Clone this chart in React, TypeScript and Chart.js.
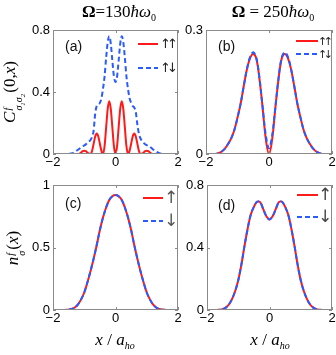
import React, { useEffect, useRef } from 'react';
import { Chart, registerables } from 'chart.js';
Chart.register(...registerables);

// ---------- data ----------
const xA = [-2, -1.6, -1.5, -1.45, -1.4, -1.35, -1.3, -1.25, -1.2, -1.15, -1.1, -1.05, -1, -0.95, -0.9, -0.85, -0.8, -0.75, -0.7, -0.65, -0.6, -0.55, -0.5, -0.45, -0.4, -0.35, -0.3, -0.25, -0.2, -0.15, -0.1, -0.05, 0, 0.05, 0.1, 0.15, 0.2, 0.25, 0.3, 0.35, 0.4, 0.45, 0.5, 0.55, 0.6, 0.65, 0.7, 0.75, 0.8, 0.85, 0.9, 0.95, 1, 1.05, 1.1, 1.15, 1.2, 1.25, 1.3, 1.35, 1.4, 1.45, 1.5, 1.6, 2];
const corrUpUpA = [0, 0, 0, 0, 0, 0, 0, 0, 0, 0.003, 0.01, 0.018, 0.021, 0.018, 0.01, 0.003, 0, 0.02, 0.066, 0.113, 0.132, 0.113, 0.066, 0.02, 0, 0.05, 0.17, 0.29, 0.34, 0.29, 0.17, 0.05, 0, 0.05, 0.17, 0.29, 0.34, 0.29, 0.17, 0.05, 0, 0.02, 0.066, 0.113, 0.132, 0.113, 0.066, 0.02, 0, 0.003, 0.01, 0.018, 0.021, 0.018, 0.01, 0.003, 0, 0, 0, 0, 0, 0, 0, 0, 0];
const corrUpDownA = [0, 0, 0, 0.002, 0.004, 0.007, 0.013, 0.02, 0.027, 0.035, 0.043, 0.05, 0.055, 0.062, 0.07, 0.08, 0.09, 0.11, 0.15, 0.26, 0.31, 0.32, 0.33, 0.36, 0.42, 0.5, 0.62, 0.72, 0.76, 0.71, 0.6, 0.5, 0.465, 0.5, 0.6, 0.71, 0.76, 0.72, 0.62, 0.5, 0.42, 0.36, 0.33, 0.31, 0.3, 0.27, 0.19, 0.13, 0.1, 0.085, 0.072, 0.063, 0.057, 0.052, 0.047, 0.038, 0.03, 0.022, 0.016, 0.01, 0.006, 0.003, 0.001, 0, 0];

const xGrid = [-2, -1.9, -1.8, -1.7, -1.6, -1.5, -1.4, -1.3, -1.2, -1.1, -1, -0.9, -0.8, -0.7, -0.6, -0.5, -0.4, -0.3, -0.2, -0.1, 0, 0.1, 0.2, 0.3, 0.4, 0.5, 0.6, 0.7, 0.8, 0.9, 1, 1.1, 1.2, 1.3, 1.4, 1.5, 1.6, 1.7, 1.8, 1.9, 2];
const corrUpUpB = [0, 0, 0, 0, 0.002, 0.006, 0.013, 0.024, 0.038, 0.058, 0.088, 0.122, 0.165, 0.205, 0.232, 0.242, 0.23, 0.18, 0.11, 0.035, 0, 0.035, 0.11, 0.18, 0.23, 0.242, 0.232, 0.205, 0.165, 0.122, 0.088, 0.058, 0.038, 0.024, 0.013, 0.006, 0.002, 0, 0, 0, 0];
const corrUpDownB = [0, 0, 0, 0, 0.002, 0.006, 0.013, 0.024, 0.038, 0.058, 0.088, 0.122, 0.165, 0.206, 0.235, 0.246, 0.232, 0.182, 0.112, 0.045, 0.014, 0.045, 0.112, 0.182, 0.232, 0.246, 0.235, 0.206, 0.165, 0.122, 0.088, 0.058, 0.038, 0.024, 0.013, 0.006, 0.002, 0, 0, 0, 0];
const densUpC = [0, 0, 0, 0, 0.001, 0.003, 0.008, 0.02, 0.045, 0.085, 0.14, 0.22, 0.31, 0.41, 0.52, 0.64, 0.74, 0.82, 0.88, 0.91, 0.92, 0.91, 0.88, 0.82, 0.74, 0.64, 0.52, 0.41, 0.31, 0.22, 0.14, 0.085, 0.045, 0.02, 0.008, 0.003, 0.001, 0, 0, 0, 0];
const densDownC = [0, 0, 0, 0, 0.001, 0.003, 0.008, 0.02, 0.045, 0.085, 0.14, 0.22, 0.31, 0.41, 0.52, 0.64, 0.74, 0.82, 0.88, 0.91, 0.92, 0.91, 0.88, 0.82, 0.74, 0.64, 0.52, 0.41, 0.31, 0.22, 0.14, 0.085, 0.045, 0.02, 0.008, 0.003, 0.001, 0, 0, 0, 0];
const densUpD = [0, 0, 0, 0, 0.001, 0.005, 0.015, 0.035, 0.07, 0.12, 0.19, 0.29, 0.41, 0.52, 0.61, 0.66, 0.693, 0.69, 0.645, 0.6, 0.58, 0.6, 0.645, 0.69, 0.693, 0.66, 0.61, 0.52, 0.41, 0.29, 0.19, 0.12, 0.07, 0.035, 0.015, 0.005, 0.001, 0, 0, 0, 0];
const densDownD = [0, 0, 0, 0, 0.001, 0.005, 0.015, 0.035, 0.07, 0.12, 0.19, 0.29, 0.41, 0.52, 0.61, 0.66, 0.693, 0.69, 0.645, 0.6, 0.58, 0.6, 0.645, 0.69, 0.693, 0.66, 0.61, 0.52, 0.41, 0.29, 0.19, 0.12, 0.07, 0.035, 0.015, 0.005, 0.001, 0, 0, 0, 0];

const xTickStep = 2;
const panelLabels = ['(a)', '(b)', '(c)', '(d)'];
const legendPair = ['\u2191\u2191', '\u2191\u2193'];
const legendSingle = ['\u2191', '\u2193'];

// ---------- styles / layout ----------
const RED = '#ff1a1a';
const BLUE = '#2a5bff';
const FRAME = '#8a8a8a';
const SANS = '"Liberation Sans", Arial, sans-serif';
const ARROWS = '"DejaVu Sans", sans-serif';
const SERIF = '"Liberation Serif", "Times New Roman", serif';
const AXW = 34;
const AXH = 20;
const PADT = 8;
const PADR = 8;

type Panel = {
  x: number[]; red: number[]; blue: number[]; ymax: number; ystep: number;
  left: number; top: number; w: number; h: number; label: string; legend: string[];
  rows: number[]; lineFrom: number; lineTo: number; textX: number; arrowFont: number; arrowSpacing: number; arrowColor: string;
  labelX: number; labelY: number; monotone: boolean;
};

const PANELS: Panel[] = [
  { x: xA, red: corrUpUpA, blue: corrUpDownA, ymax: 0.8, ystep: 0.4, left: 53, top: 30, w: 125, h: 124, label: panelLabels[0], legend: legendPair,
    rows: [14, 38], lineFrom: 40, lineTo: 20, textX: 18, arrowFont: 13, arrowSpacing: -4, arrowColor: '#222', labelX: 12, labelY: 17, monotone: true },
  { x: xGrid, red: corrUpUpB, blue: corrUpDownB, ymax: 0.3, ystep: 0.3, left: 206, top: 30, w: 126, h: 124, label: panelLabels[1], legend: legendPair,
    rows: [11, 24], lineFrom: 36, lineTo: 14, textX: 14, arrowFont: 11, arrowSpacing: -3.5, arrowColor: '#222', labelX: 12, labelY: 17, monotone: false },
  { x: xGrid, red: densUpC, blue: densDownC, ymax: 1, ystep: 0.5, left: 53, top: 185, w: 125, h: 125, label: panelLabels[2], legend: legendSingle,
    rows: [13, 36], lineFrom: 35, lineTo: 15, textX: 14, arrowFont: 17, arrowSpacing: 0, arrowColor: '#555', labelX: 12, labelY: 19, monotone: false },
  { x: xGrid, red: densUpD, blue: densDownD, ymax: 0.8, ystep: 0.4, left: 207, top: 185, w: 125, h: 125, label: panelLabels[3], legend: legendSingle,
    rows: [10, 32], lineFrom: 35, lineTo: 14, textX: 14, arrowFont: 17, arrowSpacing: 0, arrowColor: '#444', labelX: 11, labelY: 21, monotone: false },
];

function fmt(v: number | string) {
  const n = Number(v);
  return n < 0 ? '\u2212' + Math.abs(n) : String(Math.round(n * 100) / 100);
}

function framePlugin(p: Panel) {
  return {
    id: 'frame',
    afterDatasetsDraw(chart: any) {
      const { ctx, chartArea: ca, scales } = chart;
      ctx.save();
      ctx.strokeStyle = FRAME;
      ctx.lineWidth = 1;
      ctx.setLineDash([]);
      ctx.strokeRect(ca.left + 0.5, ca.top + 0.5, ca.right - ca.left - 1, ca.bottom - ca.top - 1);
      const tl = 3;
      scales.x.ticks.forEach((t: any) => {
        const px = Math.round(scales.x.getPixelForValue(t.value)) + 0.5;
        ctx.beginPath();
        ctx.moveTo(px, ca.bottom); ctx.lineTo(px, ca.bottom - tl);
        ctx.moveTo(px, ca.top); ctx.lineTo(px, ca.top + tl);
        ctx.stroke();
      });
      scales.y.ticks.forEach((t: any) => {
        const py = Math.round(scales.y.getPixelForValue(t.value)) + 0.5;
        ctx.beginPath();
        ctx.moveTo(ca.left, py); ctx.lineTo(ca.left + tl, py);
        ctx.moveTo(ca.right, py); ctx.lineTo(ca.right - tl, py);
        ctx.stroke();
      });
      // panel label
      ctx.fillStyle = '#111';
      ctx.font = `14px ${SANS}`;
      ctx.textAlign = 'left';
      ctx.textBaseline = 'middle';
      ctx.fillText(p.label, ca.left + p.labelX, ca.top + p.labelY);
      // legend
      chart.data.datasets.forEach((ds: any, i: number) => {
        const y = ca.top + p.rows[i];
        ctx.strokeStyle = ds.borderColor;
        ctx.lineWidth = 2;
        ctx.setLineDash(ds.borderDash || []);
        ctx.beginPath();
        ctx.moveTo(ca.right - p.lineFrom, y);
        ctx.lineTo(ca.right - p.lineTo, y);
        ctx.stroke();
        ctx.setLineDash([]);
        ctx.fillStyle = p.arrowColor;
        ctx.font = `${p.arrowFont}px ${ARROWS}`;
        try { (ctx as any).letterSpacing = `${p.arrowSpacing}px`; } catch (e) { /* ignore */ }
        ctx.fillText(ds.label, ca.right - p.textX, y + 1);
        try { (ctx as any).letterSpacing = '0px'; } catch (e) { /* ignore */ }
      });
      ctx.restore();
    },
  };
}

function makeChart(canvas: HTMLCanvasElement, p: Panel) {
  const line = (ys: number[]) => p.x.map((x, i) => ({ x, y: ys[i] }));
  const curve = p.monotone ? { cubicInterpolationMode: 'monotone' as const } : { tension: 0.35 };
  const tickFont = { family: SANS, size: 13 };
  return new Chart(canvas, {
    type: 'line',
    data: {
      datasets: [
        { label: p.legend[0], data: line(p.red), borderColor: RED, borderWidth: 2, pointRadius: 0, order: 1, ...curve },
        { label: p.legend[1], data: line(p.blue), borderColor: BLUE, borderWidth: 2, borderDash: [5, 3], pointRadius: 0, order: 0, ...curve },
      ],
    },
    options: {
      animation: false,
      responsive: false,
      maintainAspectRatio: false,
      devicePixelRatio: 1,
      layout: { padding: { left: 0, top: PADT, right: PADR, bottom: 0 } },
      plugins: { legend: { display: false }, tooltip: { enabled: false }, title: { display: false } },
      scales: {
        x: {
          type: 'linear', min: -2, max: 2,
          ticks: { stepSize: xTickStep, padding: 1, color: '#000', font: tickFont, maxRotation: 0, autoSkip: false, callback: (v: any) => fmt(v) },
          grid: { display: false, drawTicks: false }, border: { display: false },
          afterFit: (s: any) => { s.height = AXH; s.paddingLeft = 0; s.paddingRight = 0; },
        },
        y: {
          type: 'linear', min: 0, max: p.ymax,
          ticks: { stepSize: p.ystep, padding: 3, color: '#000', font: tickFont, callback: (v: any) => fmt(v) },
          grid: { display: false, drawTicks: false }, border: { display: false },
          afterFit: (s: any) => { s.width = AXW; s.paddingTop = 0; s.paddingBottom = 0; },
        },
      },
    } as any,
    plugins: [framePlugin(p)],
  });
}

const stack = (top: React.ReactNode, bottom: React.ReactNode, size: number) => (
  <span style={{ display: 'inline-flex', flexDirection: 'column', verticalAlign: '0.42em', fontSize: size, lineHeight: `${size + 1}px`, margin: '0 1px' }}>
    <span>{top}</span>
    <span>{bottom}</span>
  </span>
);

export default function App() {
  const refs = useRef<(HTMLCanvasElement | null)[]>([]);
  useEffect(() => {
    const charts = PANELS.map((p, i) => makeChart(refs.current[i] as HTMLCanvasElement, p));
    return () => charts.forEach((c) => c.destroy());
  }, []);

  const abs = (left: number, top: number, extra: React.CSSProperties = {}): React.CSSProperties => ({
    position: 'absolute', left, top, transform: 'translate(-50%,-50%)', whiteSpace: 'nowrap', fontFamily: SERIF, color: '#000', lineHeight: 1, ...extra,
  });

  return (
    <div style={{ position: 'absolute', left: 0, top: 0, width: 336, height: 355, background: '#fff', overflow: 'hidden' }}>
      {PANELS.map((p, i) => {
        const w = AXW + p.w + PADR;
        const h = PADT + p.h + AXH;
        return (
          <canvas key={p.label} ref={(el) => { refs.current[i] = el; }} width={w} height={h}
            style={{ position: 'absolute', left: p.left - AXW, top: p.top - PADT, width: w, height: h }} />
        );
      })}
      <div style={abs(119, 13, { fontSize: 17 })}>
        <b>Ω</b>=130<i>ħω</i><sub style={{ fontSize: 10 }}>0</sub>
      </div>
      <div style={abs(273, 13, { fontSize: 17 })}>
        <b>Ω</b> = 250<i>ħω</i><sub style={{ fontSize: 10 }}>0</sub>
      </div>
      <div style={abs(15, 92, { fontSize: 17, transform: 'translate(-50%,-50%) rotate(-90deg)' })}>
        <i>C</i>{stack(<i>f</i>, <i>σ<sub style={{ fontSize: 7 }}>1</sub>σ<sub style={{ fontSize: 7 }}>2</sub></i>, 10)}(0,<i>x</i>)
      </div>
      <div style={abs(15, 248, { fontSize: 17, transform: 'translate(-50%,-50%) rotate(-90deg)' })}>
        <i>n</i>{stack(<i>f</i>, <i>σ</i>, 10)}(<i>x</i>)
      </div>
      <div style={abs(115, 341, { fontSize: 17 })}>
        <i>x</i> / <i>a</i><sub style={{ fontSize: 10 }}><i>ho</i></sub>
      </div>
      <div style={abs(270, 341, { fontSize: 17 })}>
        <i>x</i> / <i>a</i><sub style={{ fontSize: 10 }}><i>ho</i></sub>
      </div>
    </div>
  );
}
